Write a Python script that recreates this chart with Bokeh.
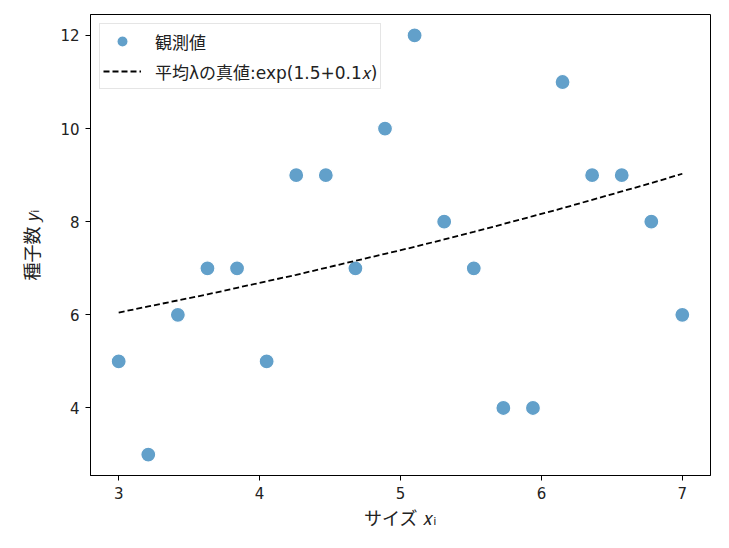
from bokeh.plotting import figure
from bokeh.models import ColumnDataSource, Range1d, FixedTicker, Legend, LegendItem
from bokeh.embed import file_html
from bokeh.resources import INLINE

# data
x_obs = [3.00, 3.21, 3.42, 3.63, 3.84, 4.05, 4.26, 4.47, 4.68, 4.89,
         5.10, 5.31, 5.52, 5.73, 5.94, 6.15, 6.36, 6.57, 6.78, 7.00]
y_obs = [5, 3, 6, 7, 7, 5, 9, 9, 7, 10, 12, 8, 7, 4, 4, 11, 9, 9, 8, 6]
lam_true = [6.05, 6.18, 6.31, 6.44, 6.58, 6.72, 6.86, 7.01, 7.16, 7.31,
            7.46, 7.62, 7.78, 7.95, 8.12, 8.29, 8.47, 8.65, 8.83, 9.03]
x_ticks = [3, 4, 5, 6, 7]
y_ticks = [4, 6, 8, 10, 12]

JP = "'DejaVu Sans', 'Noto Sans CJK JP'"
NUM = "DejaVu Sans"

p = figure(width=720, height=537, output_backend="svg", toolbar_location=None,
           x_range=Range1d(2.8, 7.2), y_range=Range1d(2.55, 12.45),
           min_border_left=90, min_border_right=10, min_border_top=14, min_border_bottom=62,
           background_fill_color="white", border_fill_color="white")

p.outline_line_color = "black"
p.outline_line_width = 1
p.xgrid.visible = False
p.ygrid.visible = False

for ax in (p.xaxis[0], p.yaxis[0]):
    ax.axis_line_color = "black"
    ax.major_tick_line_color = "black"
    ax.major_tick_out = 5
    ax.major_tick_in = 0
    ax.minor_tick_line_color = None
    ax.major_label_text_font = NUM
    ax.major_label_text_font_size = "15px"
    ax.major_label_text_color = "#222222"
    ax.axis_label_text_font = JP
    ax.axis_label_text_font_size = "18px"
    ax.axis_label_text_font_style = "normal"
    ax.axis_label_text_color = "#222222"

p.xaxis.ticker = FixedTicker(ticks=x_ticks)
p.yaxis.ticker = FixedTicker(ticks=y_ticks)
p.xaxis.axis_label = "サイズ 𝑥ᵢ"
p.yaxis.axis_label = "種子数 𝑦ᵢ"
p.xaxis.major_label_standoff = 6
p.yaxis.major_label_standoff = 6
p.xaxis.axis_label_standoff = 6
p.yaxis.axis_label_standoff = 14

src = ColumnDataSource(dict(x=x_obs, y=y_obs))
lsrc = ColumnDataSource(dict(x=x_obs, y=lam_true))

pts = p.scatter("x", "y", source=src, size=15, fill_color="#1f77b4", fill_alpha=0.7,
                line_color="white", line_width=1.2)
ln = p.line("x", "y", source=lsrc, line_color="black", line_width=1.8, line_dash="6 3")

legend = Legend(items=[LegendItem(label="観測値", renderers=[pts]),
                       LegendItem(label="平均λの真値:exp(1.5+0.1𝑥)", renderers=[ln])],
                location="top_left")
legend.label_text_font = JP
legend.label_text_font_size = "17px"
legend.label_text_color = "#222222"
legend.border_line_color = "#cccccc"
legend.border_line_width = 1
legend.background_fill_alpha = 0.8
legend.margin = 9
legend.padding = 3
legend.spacing = 2
legend.glyph_width = 38
legend.glyph_height = 28
legend.label_height = 28
legend.label_standoff = 14
p.add_layout(legend)

open("out.html", "w").write(file_html(p, INLINE))
